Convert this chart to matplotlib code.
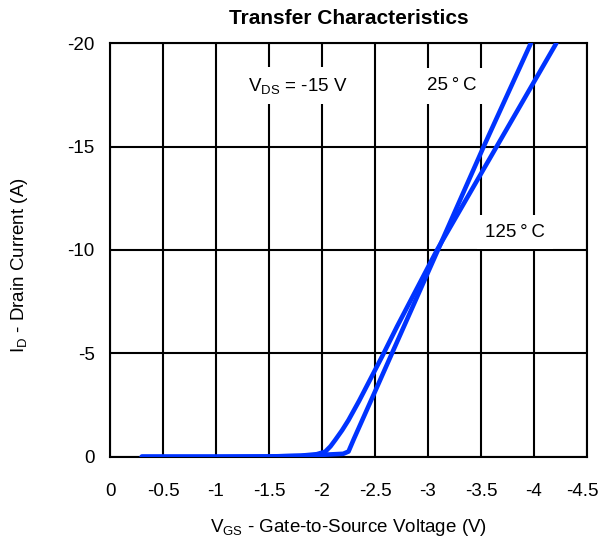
import matplotlib
matplotlib.use("Agg")
import matplotlib.pyplot as plt
from matplotlib.transforms import ScaledTranslation

plt.rcParams['font.family'] = ['Liberation Sans', 'DejaVu Sans']
plt.rcParams['mathtext.fontset'] = 'custom'
plt.rcParams['mathtext.rm'] = 'Liberation Sans'
plt.rcParams['mathtext.it'] = 'Liberation Sans'

# 25 °C curve
vgs_25 = [-0.3, -1.0, -1.5, -1.8, -2.0, -2.2, -2.25, -2.30, -2.5, -2.66, -3.085, -3.525, -3.97]
id_25 = [0, 0, -0.01, -0.04, -0.09, -0.14, -0.25, -0.85, -3.15, -5, -9.9, -15, -20]

# 125 °C curve
vgs_125 = [-0.3, -1.0, -1.5, -1.8, -1.95, -2.03, -2.08, -2.125, -2.19, -2.25, -2.35, -2.446, -2.572, -2.708, -3.085, -3.52, -4.21]
id_125 = [0, 0, -0.01, -0.05, -0.12, -0.24, -0.5, -0.81, -1.28, -1.77, -2.7, -3.65, -4.9, -6.3, -10, -13.87, -20]

x_ticks = [0, -0.5, -1, -1.5, -2, -2.5, -3, -3.5, -4, -4.5]
x_tick_labels = ["0", "-0.5", "-1", "-1.5", "-2", "-2.5", "-3", "-3.5", "-4", "-4.5"]
y_ticks = [0, -5, -10, -15, -20]
y_tick_labels = ["0", "-5", "-10", "-15", "-20"]

fig = plt.figure(figsize=(6.01, 5.45), dpi=100)
ax = fig.add_axes([110/601, 1-456.7/545, (587-110)/601, (456.7-43.3)/545])

blue = '#0033ff'
ax.plot(vgs_125, id_125, color=blue, lw=3.3, solid_capstyle='round', solid_joinstyle='round', zorder=5)
ax.plot(vgs_25, id_25, color=blue, lw=3.3, solid_capstyle='round', solid_joinstyle='round', zorder=5)

ax.set_xlim(0, -4.5)
ax.set_ylim(0, -20)
ax.set_xticks(x_ticks)
ax.set_xticklabels(x_tick_labels)
ax.set_yticks(y_ticks)
ax.set_yticklabels(y_tick_labels)
ax.tick_params(length=0, labelsize=13.5)
ax.tick_params(axis='x', pad=19)
ax.tick_params(axis='y', pad=11)
last = ax.get_xticklabels()[-1]
last.set_transform(last.get_transform() + ScaledTranslation(-5/100, 0, fig.dpi_scale_trans))
ax.grid(True, color='black', lw=1.5, zorder=1)
ax.set_axisbelow(True)
for s in ax.spines.values():
    s.set_linewidth(1.5)
    s.set_color('black')

ax.text(-1.774, -17.95, r'$\mathregular{V_{DS}}$ = -15 V', fontsize=13.5, ha='center', va='center',
        bbox=dict(boxstyle='square,pad=0.45', fc='white', ec='none'), zorder=3)
ax.text(-3.226, -17.95, '25\u2009°\u2009C', fontsize=13.5, ha='center', va='center',
        bbox=dict(boxstyle='square,pad=0.5', fc='white', ec='none'), zorder=3)
ax.text(-3.82, -10.85, '125\u2009°\u2009C', fontsize=13.5, ha='center', va='center',
        bbox=dict(boxstyle='square,pad=0.45', fc='white', ec='none'), zorder=3)

ax.set_title('Transfer Characteristics', fontsize=15, fontweight='bold', pad=14)
ax.set_xlabel(r'$\mathregular{V_{GS}}$ - Gate-to-Source Voltage (V)', fontsize=13.5, labelpad=12)
ax.set_ylabel(r'$\mathregular{I_{D}}$ - Drain Current (A)', fontsize=13.5)
ax.yaxis.set_label_coords(-0.168, 0.4637)

fig.savefig('out.png', dpi=100)
